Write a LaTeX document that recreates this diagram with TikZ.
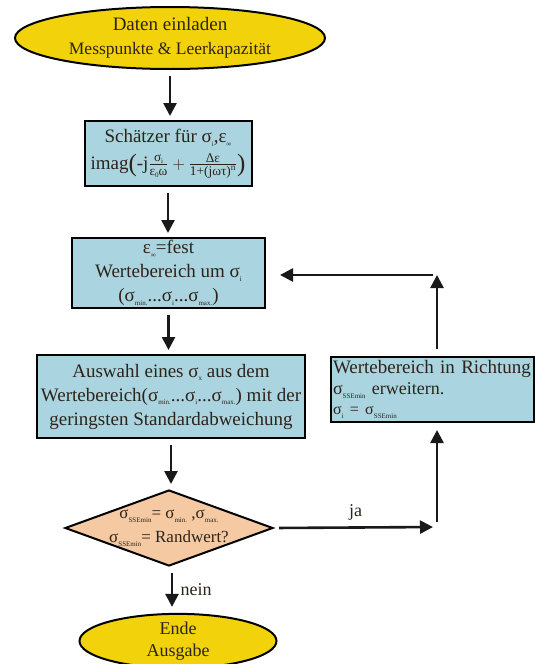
\documentclass[tikz,border=0pt]{standalone}
\usepackage{amsmath}
\usepackage{fontspec}
\setmainfont{Liberation Serif}
\usetikzlibrary{arrows.meta,shapes.geometric}
\definecolor{ellyellow}{RGB}{242,210,10}
\definecolor{boxblue}{RGB}{170,213,224}
\definecolor{diapeach}{RGB}{245,202,162}
\definecolor{txtdark}{RGB}{45,35,25}
\newcommand\lowi[1]{\raisebox{-0.45ex}{\fontsize{7}{8}\selectfont #1}}
\newcommand\bigparen[1]{\raisebox{-2pt}{\fontsize{25}{25}\selectfont #1}}
\tikzset{
  every node/.style={text=txtdark},
  term/.style={ellipse, draw=black, line width=2pt, fill=ellyellow, inner sep=0pt, align=center,
     font=\fontsize{19}{25}\selectfont},
  procbox/.style={rectangle, draw=black, line width=2pt, fill=boxblue, inner sep=2pt, align=center,
     font=\fontsize{19}{24}\selectfont},
  decision/.style={diamond, draw=black, line width=2pt, fill=diapeach, inner sep=0pt},
  flow/.style={-{Triangle[length=13pt,width=13pt]}, line width=2.6pt, draw=black!90},
  lbl/.style={font=\fontsize{18}{22}\selectfont}
}
\begin{document}
\begin{tikzpicture}[x=1pt,y=-1pt]
\useasboundingbox (0,0) rectangle (535,664);

\node[term, minimum width=310, minimum height=62] (start) at (170,38)
  {Daten einladen\\[-1pt] {\fontsize{17.5}{22}\selectfont Messpunkte \& Leerkapazität}};

\node[procbox, minimum width=167, minimum height=65, inner sep=1pt] (est) at (168,153.5)
  {Schätzer für σ\lowi{i},ε\lowi{∞}\\[3pt]
   imag\bigparen{(}$\text{-j}\frac{\text{σ\lowi{i}}}{\text{ε\lowi{0}ω}}+\frac{\text{Δε}}{\text{1+(jωτ)\textsuperscript{n}}}$\bigparen{)}};

\node[procbox, minimum width=193, minimum height=70] (range) at (168.5,273)
  {ε\lowi{∞}=fest\\ Wertebereich um σ\lowi{i}\\ (σ\lowi{min.}...σ\lowi{i}...σ\lowi{max.})};

\node[procbox, minimum width=268, minimum height=83] (select) at (171,396.5)
  {Auswahl eines σ\lowi{x} aus dem\\ Wertebereich(σ\lowi{min.}...σ\lowi{i}...σ\lowi{max.}) mit der\\ geringsten Standardabweichung};

\node[procbox, minimum width=203, minimum height=65, align=left, text width=199] (extend) at (432.5,389.5)
  {Wertebereich in Richtung\\[-3pt]
   {\fontsize{18}{22}\selectfont σ\lowi{SSEmin} erweitern.}\\[-4pt]
   {\fontsize{16}{20}\selectfont σ\lowi{i} = σ\lowi{SSEmin}}};

\node[decision, minimum width=208, minimum height=76] (check) at (169,528) {};
\node[align=center, font=\fontsize{17}{24}\selectfont] (checktxt) at (check.center)
  {σ\lowi{SSEmin}= σ\lowi{min.} ,σ\lowi{max.}\\ σ\lowi{SSEmin}= Randwert?};

\node[term, minimum width=197, minimum height=48, font=\fontsize{18}{22}\selectfont] (stop) at (178,641)
  {Ende\\ Ausgabe};

\coordinate (cja) at (437,527);
\coordinate (cup) at (437,275);

\draw[flow, shorten <=6pt, shorten >=4pt] (start.south) -- (start.south |- est.north);
\draw[flow, shorten <=6pt, shorten >=4pt] (est.south) -- (est.south |- range.north);
\draw[flow, shorten <=6pt, shorten >=4pt] (range.south) -- (range.south |- select.north);
\draw[flow, shorten <=6pt, shorten >=5pt] (select.south) -- (select.south |- check.north);
\draw[flow, shorten <=6pt, shorten >=6pt] ([xshift=3pt]check.south) -- ([xshift=3pt]check.south |- stop.north)
  node[midway, right=4pt, lbl] (nein) {nein};
\draw[flow, shorten <=5pt, shorten >=4pt] (check.east) -- (cja)
  node[midway, above=3pt, lbl] (ja) {ja};
\draw[flow, shorten <=5pt, shorten >=7pt] (cja) -- (extend.south -| cja);
\draw[flow, shorten <=7pt, shorten >=0pt] (extend.north -| cup) -- (cup);
\draw[flow, shorten <=4pt, shorten >=14pt] (cup) -- (range.east |- cup);
\end{tikzpicture}
\end{document}
